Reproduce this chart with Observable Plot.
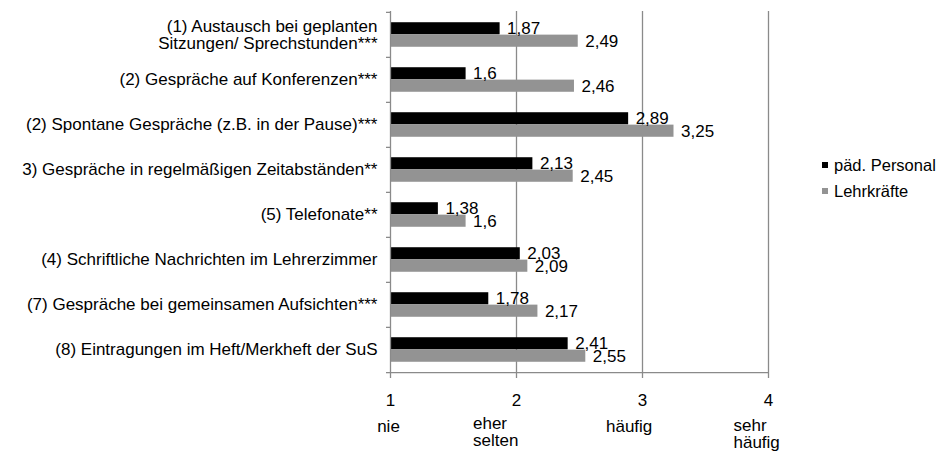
<!DOCTYPE html>
<html>
<head>
<meta charset="utf-8">
<script src="https://cdn.jsdelivr.net/npm/d3@7"></script>
<script src="https://cdn.jsdelivr.net/npm/@observablehq/plot@0.6"></script>
<style>
  html, body { margin: 0; padding: 0; background: #fff; }
  #wrap { position: relative; width: 943px; height: 451px; font-family: "Liberation Sans", Arial, sans-serif; }
  .leg { position: absolute; left: 822px; display: flex; align-items: center; font-size: 16.5px; color: #000; white-space: nowrap; }
  .sw { width: 6px; height: 6px; margin-right: 6px; }
</style>
</head>
<body>
<div id="wrap"></div>
<script>
const categories = [
  "(1) Austausch bei geplanten\nSitzungen/ Sprechstunden***",
  "(2) Gespräche auf Konferenzen***",
  "(2) Spontane Gespräche (z.B. in der Pause)***",
  "3) Gespräche in regelmäßigen Zeitabständen**",
  "(5) Telefonate**",
  "(4) Schriftliche Nachrichten im Lehrerzimmer",
  "(7) Gespräche bei gemeinsamen Aufsichten***",
  "(8) Eintragungen im Heft/Merkheft der SuS"
];
const seriesNames = ["päd. Personal", "Lehrkräfte"];
const seriesColors = ["#000000", "#939393"];
const personal = [1.87, 1.6, 2.89, 2.13, 1.38, 2.03, 1.78, 2.41];
const lehrkraefte = [2.49, 2.46, 3.25, 2.45, 1.6, 2.09, 2.17, 2.55];
const xTicks = [1, 2, 3, 4];
const scaleLabels = ["nie", "eher\nselten", "häufig", "sehr\nhäufig"];

const rowsP = categories.map((c, i) => ({cat: c, value: personal[i]}));
const rowsL = categories.map((c, i) => ({cat: c, value: lehrkraefte[i]}));
const scaleRows = xTicks.map((x, i) => ({x, label: scaleLabels[i]}));
const fmt = v => String(v).replace(".", ",");

const H = 451, mT = 11, mB = 78;
const half = (H - mT - mB) / categories.length / 2;
const barH = 12.4;
const grid = "#8a8a8a";

const chart = Plot.plot({
  width: 943,
  height: H,
  marginLeft: 390,
  marginRight: 175,
  marginTop: mT,
  marginBottom: mB,
  style: {fontFamily: "'Liberation Sans', Arial, sans-serif", fontSize: "17px", color: "#000", background: "#fff"},
  x: {domain: [xTicks[0], xTicks[xTicks.length - 1]]},
  y: {domain: categories, padding: 0},
  marks: [
    Plot.ruleX(xTicks.slice(1), {stroke: grid, strokeWidth: 1.3}),
    Plot.barX(rowsP, {y: "cat", x1: xTicks[0], x2: "value", fill: seriesColors[0], insetTop: half - barH, insetBottom: half}),
    Plot.barX(rowsL, {y: "cat", x1: xTicks[0], x2: "value", fill: seriesColors[1], insetTop: half, insetBottom: half - barH}),
    Plot.ruleX([xTicks[0]], {stroke: grid, strokeWidth: 1.3}),
    Plot.ruleY([categories[categories.length - 1]], {dy: half, stroke: grid, strokeWidth: 1.3}),
    Plot.axisY({tickSize: 0, tickPadding: 13, lineHeight: 1, fill: "#000", fontSize: 17, label: null}),
    Plot.axisY({tickSize: 4, tickPadding: 0, tickFormat: () => "", dy: -half, stroke: grid, strokeWidth: 1.3, label: null}),
    Plot.axisY({ticks: [categories[categories.length - 1]], tickSize: 4, tickPadding: 0, tickFormat: () => "", dy: half, stroke: grid, strokeWidth: 1.3, label: null}),
    Plot.axisX({ticks: xTicks, tickSize: 5, tickPadding: 15, tickFormat: d => String(d), stroke: grid, strokeWidth: 1.3, fill: "#000", fontSize: 17, label: null}),
    Plot.text(rowsP, {x: "value", y: "cat", text: d => fmt(d.value), dx: 7, dy: -barH / 2, textAnchor: "start", fill: "#000", fontSize: 17}),
    Plot.text(rowsL, {x: "value", y: "cat", text: d => fmt(d.value), dx: 7, dy: barH / 2, textAnchor: "start", fill: "#000", fontSize: 17}),
    Plot.text(scaleRows, {filter: (d, i) => i === 0, x: "x", text: "label", frameAnchor: "bottom", lineAnchor: "top", dy: 46, dx: -2, textAnchor: "middle", fontSize: 17, fill: "#000"}),
    Plot.text(scaleRows, {filter: (d, i) => i === 1, x: "x", text: "label", frameAnchor: "bottom", lineAnchor: "top", dy: 43, dx: -43.5, textAnchor: "start", lineHeight: 1, fontSize: 17, fill: "#000"}),
    Plot.text(scaleRows, {filter: (d, i) => i === 2, x: "x", text: "label", frameAnchor: "bottom", lineAnchor: "top", dy: 46.5, dx: -36.5, textAnchor: "start", fontSize: 17, fill: "#000"}),
    Plot.text(scaleRows, {filter: (d, i) => i === 3, x: "x", text: "label", frameAnchor: "bottom", lineAnchor: "top", dy: 45, dx: -35, textAnchor: "start", lineHeight: 1, fontSize: 17, fill: "#000"})
  ]
});

const wrap = document.getElementById("wrap");
wrap.appendChild(chart);
const legTops = [155, 181];
seriesNames.forEach((name, i) => {
  const d = document.createElement("div");
  d.className = "leg";
  d.style.top = legTops[i] + "px";
  d.style.height = "20px";
  const sw = document.createElement("span");
  sw.className = "sw";
  sw.style.background = seriesColors[i];
  const t = document.createElement("span");
  t.textContent = name;
  d.appendChild(sw);
  d.appendChild(t);
  wrap.appendChild(d);
});
</script>
</body>
</html>
